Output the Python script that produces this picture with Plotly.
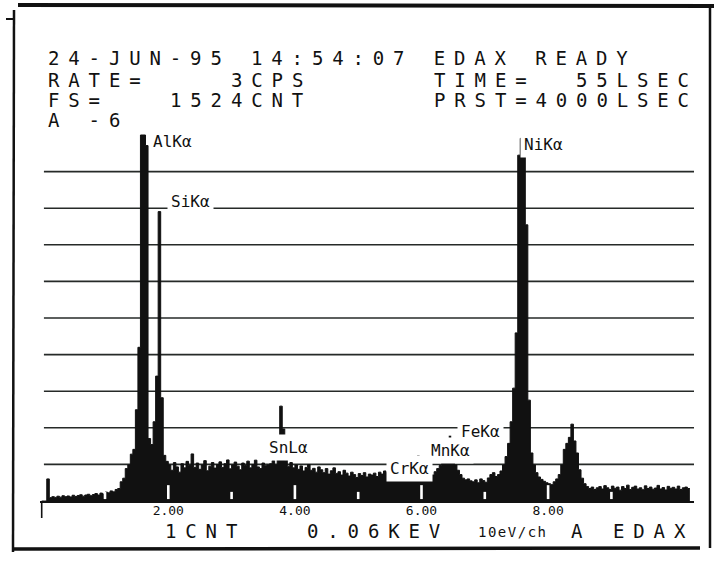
import json
import numpy as np
import plotly.graph_objects as go

# ---------------- spectrum data ----------------
# counts per 40 eV bin (4 x 10 eV channels), 0.00 - 10.24 keV
BIN_KEV = 0.04
counts = (
    [0, 0, 92, 14, 18, 15, 20, 16, 22, 18]              # 0.00 - 0.36
    + [21, 17, 24, 19, 23, 26, 20, 25, 28, 22]          # 0.40 - 0.76
    + [27, 31, 25, 33, 29, 37, 34, 42, 38, 48]          # 0.80 - 1.16
    + [52, 80, 95, 135, 150, 195, 215, 380, 640, 1524]  # 1.20 - 1.56
    + [1524, 1480, 260, 235, 330, 520, 1205, 430, 190, 165]  # 1.60 - 1.96
    + [150, 128, 160, 142, 120, 155, 138, 165, 148, 196]     # 2.00 - 2.36
    + [140, 158, 132, 150, 168, 126, 145, 160, 137, 152]     # 2.40 - 2.76
    + [163, 140, 155, 171, 134, 150, 162, 145, 130, 158]     # 2.80 - 3.16
    + [148, 166, 138, 152, 170, 142, 135, 158, 147, 150]     # 3.20 - 3.56
    + [155, 168, 150, 260, 395, 300, 170, 145, 160, 138]     # 3.60 - 3.96
    + [150, 132, 146, 125, 140, 152, 128, 136, 120, 142]     # 4.00 - 4.36
    + [130, 118, 135, 112, 126, 138, 115, 122, 108, 128]     # 4.40 - 4.76
    + [116, 104, 120, 110, 98, 114, 106, 118, 100, 112]      # 4.80 - 5.16
    + [108, 116, 102, 120, 112, 125, 118, 110, 122, 105]     # 5.20 - 5.56
    + [112, 104, 118, 108, 115, 120, 110, 124, 116, 128]     # 5.60 - 5.96
    + [118, 105, 112, 100, 108, 122, 135, 148, 160, 172]     # 6.00 - 6.36
    + [178, 182, 168, 150, 128, 110, 95, 88, 92, 84]         # 6.40 - 6.76
    + [80, 88, 76, 92, 85, 78, 96, 110, 118, 102]            # 6.80 - 7.16
    + [110, 125, 150, 185, 240, 330, 470, 700, 1440, 1510]   # 7.20 - 7.56
    + [1500, 1150, 420, 200, 150, 118, 100, 90, 82, 76]      # 7.60 - 7.96
    + [72, 68, 80, 92, 110, 150, 215, 240, 265, 320]         # 8.00 - 8.36
    + [250, 200, 130, 95, 72, 60, 52, 58, 48, 55]            # 8.40 - 8.76
    + [60, 50, 64, 55, 48, 62, 53, 58, 45, 60]               # 8.80 - 9.16
    + [52, 66, 48, 57, 62, 50, 55, 47, 63, 52]               # 9.20 - 9.56
    + [58, 49, 54, 65, 50, 56, 46, 61, 53, 57]               # 9.60 - 9.96
    + [50, 62, 48, 55, 58, 52]                               # 10.00 - 10.20
)
bin_edges = np.arange(len(counts) + 1) * BIN_KEV

FULL_SCALE = 1524          # FS= 1524CNT
GRID_DIVS = 10

tick_vals = [2, 4, 6, 8]
tick_text = ["2.00", "4.00", "6.00", "8.00"]
major_marks = [2, 4, 6, 8]
minor_marks = [1, 3, 5, 7, 9]

# peak identification labels: text, energy of left edge (keV), height (counts)
peak_labels = [
    ("AlKα", 1.70, 1499),
    ("SiKα", 1.98, 1249),
    ("NiKα", 7.56, 1486),
    ("SnLα", 3.53, 221),
    ("MnKα", 6.09, 212),
    ("FeKα", 6.56, 291),
    ("CrKα", 5.44, 137),
]
# KLM marker ticks: energy (keV), from counts, to counts
klm_marks = [(5.95, 150, 190), (6.45, 252, 272)]

# header / footer readout of the analyser
header_rows = [
    [("24-JUN-95 14:54:07 EDAX READY", 0)],
    [("RATE=", 0), ("3CPS", 9), ("TIME=", 19), ("55LSEC", 26)],
    [("FS=", 0), ("1524CNT", 6), ("PRST=4000LSEC", 19)],
    [("A -6", 0)],
]
footer_items = [("1CNT", 165), ("0.06KEV", 307), ("A", 571), ("EDAX", 613)]
footer_small = ("10eV/ch", 478)

# ---------------- geometry ----------------
W_FIG, H_FIG = 714, 564
M_L, M_R, M_T, M_B = 40, 20, 125, 63
PLOT_W = W_FIG - M_L - M_R
PLOT_H = H_FIG - M_T - M_B
PX_PER_KEV = 63.3
KEV0_PX = 41.7
GRID_PX = 36.6
x_range = [(M_L - KEV0_PX) / PX_PER_KEV, (M_L + PLOT_W - KEV0_PX) / PX_PER_KEV]
y_max = PLOT_H / GRID_PX * FULL_SCALE / GRID_DIVS


def fx(p):
    return (p - M_L) / PLOT_W


def fy(p):
    return (H_FIG - M_B - p) / PLOT_H


INK = "#111111"
MONO = "DejaVu Sans Mono"
HEAD_SIZE = 19
COL_PX = 20.3
HEAD_LS = COL_PX - 0.602 * HEAD_SIZE

fig = go.Figure()

fig.add_trace(go.Scatter(
    x=bin_edges,
    y=counts + [counts[-1]],
    mode="lines",
    line=dict(color=INK, width=1, shape="hv"),
    fill="tozeroy",
    fillcolor=INK,
    hoverinfo="skip",
    showlegend=False,
))

shapes = []
# horizontal full-scale divisions
for k in range(1, GRID_DIVS):
    yv = k * FULL_SCALE / GRID_DIVS
    shapes.append(dict(type="line", xref="paper", yref="y", x0=0.006, x1=1,
                       y0=yv, y1=yv, line=dict(color="#262a28", width=1.6),
                       layer="below"))
# energy marks cut into the spectrum
for e in major_marks:
    shapes.append(dict(type="line", xref="x", yref="y", x0=e, x1=e, y0=8, y1=66,
                       line=dict(color="white", width=2.6), layer="above"))
for e in minor_marks:
    shapes.append(dict(type="line", xref="x", yref="y", x0=e, x1=e, y0=8, y1=38,
                       line=dict(color="white", width=2.6), layer="above"))
# KLM markers
for e, y0, y1 in klm_marks:
    shapes.append(dict(type="line", xref="x", yref="y", x0=e, x1=e, y0=y0, y1=y1,
                       line=dict(color=INK, width=2.5), layer="above"))
# zero-energy mark below the baseline
shapes.append(dict(type="line", xref="x", yref="paper", x0=0, x1=0,
                   y0=fy(502), y1=fy(518), line=dict(color=INK, width=1.6)))
# page frame
frame = [((18, 5), (714, 6), 4), ((14, 10), (13, 552), 2.5),
         ((12, 549), (700, 548), 3.5), ((710, 8), (710, 548), 2.5),
         ((6, 19), (14, 19), 2)]
for (x0, y0), (x1, y1), w in frame:
    shapes.append(dict(type="line", xref="paper", yref="paper",
                       x0=fx(x0), y0=fy(y0), x1=fx(x1), y1=fy(y1),
                       line=dict(color=INK, width=w)))

annotations = []
spacing = {}


def add_text(text, xp, yp, size, ls=None):
    idx = len(annotations)
    annotations.append(dict(text=text, x=fx(xp), y=fy(yp), xref="paper", yref="paper",
                            xanchor="left", yanchor="middle", align="left",
                            showarrow=False, font=dict(family=MONO, size=size, color=INK)))
    if ls:
        spacing[str(idx)] = round(ls, 2)


row_y = [58, 80, 100, 120]
for row, yp in zip(header_rows, row_y):
    for text, col in row:
        add_text(text, 48 + col * COL_PX - 2, yp, HEAD_SIZE, HEAD_LS)
for text, xp in footer_items:
    add_text(text, xp - 2, 531, HEAD_SIZE, HEAD_LS)
add_text(footer_small[0], footer_small[1] - 2, 532, 14, 1.5)

for text, e, c in peak_labels:
    annotations.append(dict(text=text, x=e, y=c, xref="x", yref="y",
                            xanchor="left", yanchor="middle", align="left",
                            showarrow=False, bgcolor="white", borderpad=3,
                            font=dict(family=MONO, size=16, color=INK)))

fig.update_layout(
    width=W_FIG, height=H_FIG, autosize=False,
    margin=dict(l=M_L, r=M_R, t=M_T, b=M_B),
    paper_bgcolor="white", plot_bgcolor="white",
    showlegend=False,
    shapes=shapes,
    annotations=annotations,
    xaxis=dict(range=x_range, showgrid=False, zeroline=False,
               showline=True, linecolor=INK, linewidth=2,
               tickmode="array", tickvals=tick_vals, ticktext=tick_text,
               ticks="", ticklabelstandoff=-4,
               tickfont=dict(family=MONO, size=13, color=INK)),
    yaxis=dict(range=[0, y_max], visible=False, showgrid=False, zeroline=False),
)

post = """
var gd = document.getElementById('{plot_id}');
var sp = %s;
gd.querySelectorAll('g.annotation').forEach(function(g){
  var i = g.getAttribute('data-index');
  if (sp[i] !== undefined) {
    g.querySelectorAll('text').forEach(function(t){ t.style.letterSpacing = sp[i] + 'px'; });
  }
});
""" % json.dumps(spacing)

fig.write_html("out.html", post_script=post)
